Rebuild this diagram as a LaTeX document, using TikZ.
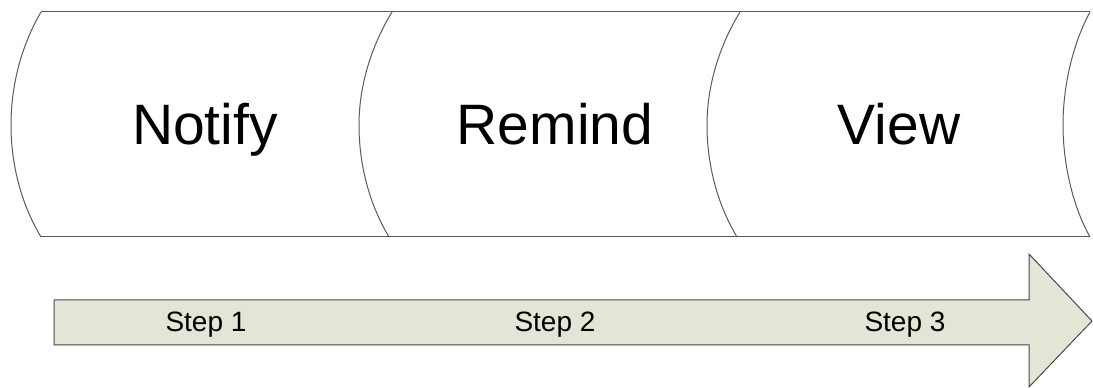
\documentclass[tikz,border=0pt]{standalone}
\usepackage{fontspec}
\setmainfont{Liberation Sans}
\definecolor{arrowfill}{RGB}{227,230,214}
\definecolor{edge}{RGB}{90,90,90}
\begin{document}
\begin{tikzpicture}[x=0.75pt,y=-0.75pt,
  pageedge/.style={draw=edge,line width=0.75pt},
  bigtext/.style={font=\fontsize{42.75}{50}\selectfont,inner sep=0pt,anchor=base},
  steptext/.style={font=\fontsize{21}{25}\selectfont,inner sep=0pt,anchor=base},
  bigarrow/.style={draw=edge!80!black,fill=arrowfill,line width=0.75pt}]
\useasboundingbox (0,0) rectangle (1093,388);
% top and bottom edges
\draw[pageedge] (41,12) -- (1090,12);
\draw[pageedge] (41,237) -- (1090,237);
% curved edges
\draw[pageedge] (41,12) .. controls (20,48) and (11,88) .. (11,125) .. controls (11,162) and (20,202) .. (41,237);
\draw[pageedge] (392,12) .. controls (370,48) and (359,88) .. (359,125) .. controls (359,162) and (368,202) .. (389,237);
\draw[pageedge] (740,12) .. controls (718,48) and (707,88) .. (707,125) .. controls (707,162) and (716,202) .. (737,237);
\draw[pageedge] (1090,12) .. controls (1072,45) and (1063,88) .. (1063,125) .. controls (1063,162) and (1072,205) .. (1090,237);
% labels
\node[bigtext] (notify) at (205,145) {Notify};
\node[bigtext] (remind) at (555,145) {Remind};
\node[bigtext] (view) at (899,145) {View};
% arrow
\draw[bigarrow] (54,300) -- (1029,300) -- (1029,254) -- (1092,321) -- (1029,387) -- (1029,345) -- (54,345) -- cycle;
\node[steptext] (s1) at (206,332) {Step 1};
\node[steptext] (s2) at (555,332) {Step 2};
\node[steptext] (s3) at (905,332) {Step 3};
\end{tikzpicture}
\end{document}
